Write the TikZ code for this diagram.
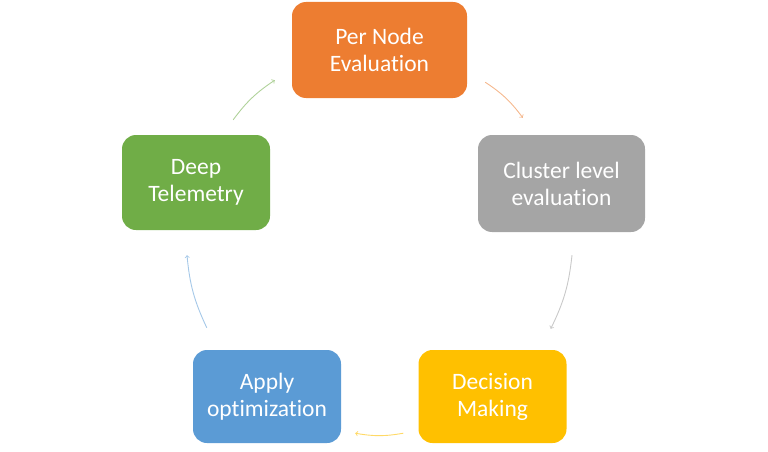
\documentclass[tikz,border=0pt]{standalone}
\usepackage{fontspec}
\setmainfont{Carlito}[Ligatures=NoCommon]
\usepackage{tikz}

\definecolor{evalorange}{HTML}{ED7D31}
\definecolor{clustergray}{HTML}{A5A5A5}
\definecolor{decisionyellow}{HTML}{FFC000}
\definecolor{applyblue}{HTML}{5B9BD5}
\definecolor{deepgreen}{HTML}{70AD47}

\begin{document}
\begin{tikzpicture}[x=1pt, y=1pt,
	box/.style={rounded corners=14pt, text=white, align=center, inner sep=0pt,
		font=\fontsize{23.5}{27}\selectfont, minimum width=148pt, minimum height=95pt},
	flow/.style={->, line width=0.9pt, bend left=10}]
			\useasboundingbox (0, 0) rectangle (768, 451);

			\node[box, fill=evalorange, minimum width=175pt, minimum height=96pt] (pern) at (379.5, 401) {Per Node\\Evaluation};
			\node[box, fill=clustergray, minimum width=167pt, minimum height=97pt] (clus) at (561.5, 267.5) {Cluster level\\evaluation};
			\node[box, fill=decisionyellow, minimum height=93pt] (deci) at (492.5, 54.5) {Decision\\Making};
			\node[box, fill=applyblue, minimum height=93pt] (appl) at (267, 54.5) {Apply\\optimization};
			\node[box, fill=deepgreen] (deep) at (196, 268.5) {Deep\\Telemetry};

			% arrow ends, taken from the box corners
			\coordinate (d2p-s) at ([shift={(-37, 15)}]deep.north east);
			\coordinate (d2p-e) at ([shift={(-17, 18)}]pern.south west);
			\coordinate (p2c-s) at ([shift={(18, 16)}]pern.south east);
			\coordinate (p2c-e) at ([shift={(45, 17)}]clus.north west);
			\coordinate (c2d-s) at ([shift={(10.5, -23)}]clus.south);
			\coordinate (c2d-e) at ([shift={(-16, 21)}]deci.north east);
			\coordinate (d2a-s) at ([shift={(-15, 10)}]deci.south west);
			\coordinate (d2a-e) at ([shift={(14, 10)}]appl.south east);
			\coordinate (a2d-s) at ([shift={(14, 22)}]appl.north west);
			\coordinate (a2d-e) at ([shift={(-9, -25)}]deep.south);

			\draw[flow, deepgreen!55] (d2p-s) to (d2p-e);
			\draw[flow, evalorange!55] (p2c-s) to (p2c-e);
			\draw[flow, clustergray!60] (c2d-s) to (c2d-e);
			\draw[flow, decisionyellow!60] (d2a-s) to (d2a-e);
			\draw[flow, applyblue!55] (a2d-s) to (a2d-e);
		\end{tikzpicture}
\end{document}
